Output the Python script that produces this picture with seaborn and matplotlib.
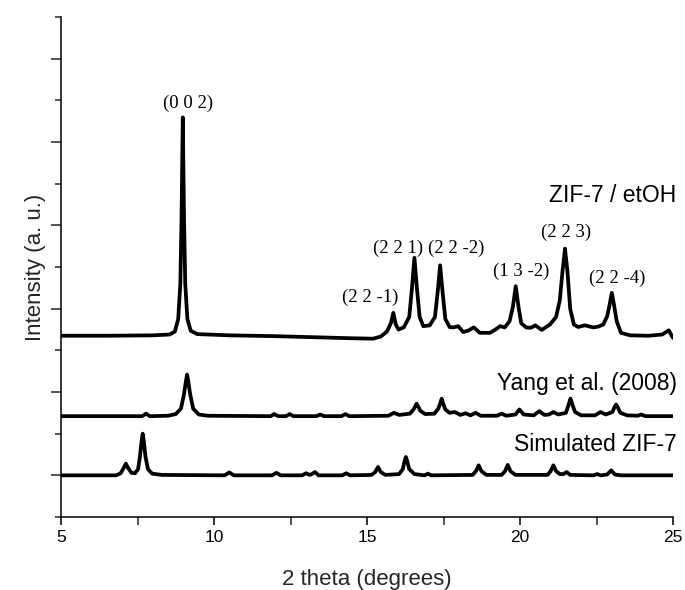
import matplotlib
matplotlib.use("Agg")
import matplotlib.pyplot as plt
import seaborn as sns
import pandas as pd
from matplotlib.ticker import MultipleLocator, NullFormatter

# ---------------- data ----------------
# ZIF-7 / etOH pattern (2theta, intensity in offset units)
etoh_theta = [5.0, 6.5, 8.0, 8.55, 8.72, 8.83, 8.9, 8.94, 8.98, 9.02, 9.06, 9.13, 9.24, 9.45,
              10.5, 12.0, 13.5, 14.5, 15.2, 15.45, 15.65, 15.78, 15.86, 15.94, 16.03, 16.2,
              16.38, 16.47, 16.55, 16.63, 16.72, 16.84, 17.05, 17.22, 17.31, 17.39, 17.47,
              17.56, 17.7, 17.82, 17.98, 18.14, 18.3, 18.49, 18.69, 19.02, 19.2, 19.35, 19.5,
              19.66, 19.77, 19.86, 19.95, 20.04, 20.2, 20.35, 20.5, 20.71, 20.98, 21.18, 21.3,
              21.39, 21.47, 21.55, 21.64, 21.76, 21.9, 22.12, 22.39, 22.56, 22.72, 22.85,
              22.93, 23.0, 23.07, 23.16, 23.3, 23.6, 24.2, 24.65, 24.86, 25.0]
etoh_int = [3.35, 3.35, 3.36, 3.38, 3.45, 3.75, 4.6, 6.2, 8.59, 6.2, 4.6, 3.75, 3.47, 3.39,
            3.36, 3.34, 3.31, 3.29, 3.28, 3.33, 3.45, 3.65, 3.9, 3.62, 3.5, 3.55,
            3.8, 4.5, 5.22, 4.5, 3.8, 3.58, 3.6, 3.8, 4.4, 5.04, 4.4,
            3.75, 3.56, 3.55, 3.58, 3.44, 3.47, 3.55, 3.42, 3.42, 3.5, 3.58, 3.55,
            3.7, 4.05, 4.54, 4.05, 3.65, 3.55, 3.54, 3.6, 3.49, 3.62, 3.8, 4.2,
            4.9, 5.44, 4.9, 4.0, 3.62, 3.56, 3.6, 3.55, 3.57, 3.62, 3.82,
            4.1, 4.38, 4.1, 3.7, 3.42, 3.36, 3.35, 3.38, 3.48, 3.3]

# Yang et al. (2008) pattern
yang_theta = [5.0, 7.65, 7.78, 7.9, 8.5, 8.75, 8.92, 9.02, 9.07, 9.12, 9.17, 9.22, 9.32, 9.5,
              9.8, 11.85, 11.97, 12.1, 12.35, 12.47, 12.6, 13.35, 13.47, 13.6, 14.17, 14.29,
              14.42, 15.7, 15.88, 16.05, 16.4, 16.52, 16.58, 16.62, 16.67, 16.74, 16.9, 17.2,
              17.33, 17.39, 17.44, 17.49, 17.56, 17.7, 17.87, 18.05, 18.22, 18.38, 18.55,
              18.72, 19.25, 19.4, 19.55, 19.85, 19.98, 20.12, 20.45, 20.63, 20.8, 20.95,
              21.09, 21.25, 21.5, 21.59, 21.65, 21.71, 21.8, 22.0, 22.45, 22.63, 22.8, 23.02,
              23.09, 23.14, 23.19, 23.28, 23.5, 23.85, 23.96, 24.1, 25.0]
yang_int = [1.42, 1.42, 1.48, 1.42, 1.43, 1.47, 1.6, 1.95, 2.2, 2.42, 2.2, 1.95, 1.6, 1.46,
            1.43, 1.42, 1.47, 1.42, 1.42, 1.47, 1.42, 1.42, 1.46, 1.42, 1.42, 1.47,
            1.42, 1.43, 1.5, 1.45, 1.48, 1.58, 1.66, 1.72, 1.66, 1.55, 1.47, 1.48,
            1.6, 1.72, 1.84, 1.72, 1.58, 1.5, 1.52, 1.45, 1.49, 1.44, 1.5,
            1.43, 1.43, 1.48, 1.43, 1.46, 1.58, 1.46, 1.44, 1.54, 1.45, 1.46,
            1.52, 1.46, 1.5, 1.7, 1.84, 1.7, 1.52, 1.44, 1.44, 1.52, 1.46, 1.52,
            1.64, 1.7, 1.64, 1.5, 1.44, 1.43, 1.46, 1.42, 1.42]

# Simulated ZIF-7 pattern
sim_theta = [5.0, 6.8, 6.95, 7.05, 7.12, 7.19, 7.3, 7.42, 7.52, 7.58, 7.63, 7.67, 7.71, 7.76,
             7.84, 7.98, 8.3, 10.35, 10.5, 10.65, 11.9, 12.04, 12.18, 12.88, 13.01, 13.12,
             13.2, 13.3, 13.42, 14.2, 14.32, 14.45, 15.15, 15.27, 15.36, 15.45, 15.6, 16.05,
             16.17, 16.23, 16.27, 16.31, 16.38, 16.55, 16.88, 16.99, 17.1, 18.45, 18.56,
             18.65, 18.74, 18.9, 19.4, 19.51, 19.6, 19.69, 19.85, 20.9, 21.0, 21.09, 21.18,
             21.3, 21.42, 21.52, 21.64, 22.4, 22.52, 22.64, 22.85, 22.98, 23.1, 23.3, 25.0]
sim_int = [0.0, 0.0, 0.05, 0.18, 0.28, 0.18, 0.06, 0.05, 0.15, 0.45, 0.8, 1.0, 0.8, 0.45,
           0.15, 0.04, 0.01, 0.0, 0.07, 0.0, 0.0, 0.06, 0.0, 0.0, 0.05, 0.01,
           0.03, 0.08, 0.0, 0.0, 0.05, 0.0, 0.01, 0.08, 0.2, 0.08, 0.01, 0.03,
           0.15, 0.35, 0.44, 0.35, 0.15, 0.03, 0.0, 0.04, 0.0, 0.01, 0.1,
           0.24, 0.1, 0.01, 0.01, 0.1, 0.25, 0.1, 0.01, 0.01, 0.1, 0.24, 0.1,
           0.03, 0.03, 0.08, 0.01, 0.0, 0.03, 0.0, 0.02, 0.12, 0.02, 0.0, 0.0]

# peak (hkl) annotations
hkl_labels = ["(0 0 2)", "(2 2 -1)", "(2 2 1)", "(2 2 -2)", "(1 3 -2)", "(2 2 3)", "(2 2 -4)"]
hkl_x = [9.15, 15.1, 16.01, 17.93, 20.03, 21.5, 23.16]
hkl_y = [8.93, 4.28, 5.44, 5.44, 4.9, 5.84, 4.72]

series_names = ["ZIF-7 / etOH", "Yang et al. (2008)", "Simulated ZIF-7"]
series_label_y = [6.72, 2.21, 0.74]

x_ticks = [5, 10, 15, 20, 25]

# ---------------- plotting ----------------
sns.set_theme(style="ticks")
plt.rcParams["font.family"] = ["Liberation Sans", "DejaVu Sans"]

fig = plt.figure(figsize=(6.85, 5.9), dpi=100)
ax = fig.add_axes([61 / 685, 73 / 590, 612 / 685, 500 / 590])

frames = [
    pd.DataFrame({"theta": etoh_theta, "intensity": etoh_int, "series": series_names[0]}),
    pd.DataFrame({"theta": yang_theta, "intensity": yang_int, "series": series_names[1]}),
    pd.DataFrame({"theta": sim_theta, "intensity": sim_int, "series": series_names[2]}),
]
for df in frames:
    sns.lineplot(data=df, x="theta", y="intensity", ax=ax, color="black",
                 linewidth=2.7, estimator=None, sort=False, legend=False)
for line in ax.get_lines():
    line.set_solid_joinstyle("round")
    line.set_solid_capstyle("round")

ax.set_xlim(5, 25)
ax.set_ylim(-1, 11)
ax.set_xticks(x_ticks)
ax.xaxis.set_minor_locator(MultipleLocator(2.5))
ax.yaxis.set_major_locator(MultipleLocator(2))
ax.yaxis.set_minor_locator(MultipleLocator(2, offset=1))
ax.yaxis.set_major_formatter(NullFormatter())

ax.tick_params(axis="x", which="major", length=6, width=1.1, direction="out",
               labelsize=12.5, pad=3, colors="black")
ax.tick_params(axis="x", which="minor", length=6, width=1.1, direction="out")
ax.tick_params(axis="y", which="major", length=7.5, width=1.1, direction="out")
ax.tick_params(axis="y", which="minor", length=4, width=1.1, direction="out")

for s in ["top", "right"]:
    ax.spines[s].set_visible(False)
for s in ["left", "bottom"]:
    ax.spines[s].set_linewidth(1.1)
    ax.spines[s].set_color("black")

ax.set_xlabel("2 theta (degrees)", fontsize=16)
ax.set_ylabel("Intensity (a. u.)", fontsize=16)
ax.xaxis.set_label_coords(0.5, -0.105)
ax.yaxis.set_label_coords(-0.025, 0.5)

for lab, xx, yy in zip(hkl_labels, hkl_x, hkl_y):
    ax.text(xx, yy, lab, ha="center", va="center", fontsize=13.5,
            family=["Liberation Serif", "DejaVu Serif"], color="black")

for name, yy in zip(series_names, series_label_y):
    ax.text(25.12, yy, name, ha="right", va="center", fontsize=16.5, color="black")

fig.savefig("out.png", dpi=100)
